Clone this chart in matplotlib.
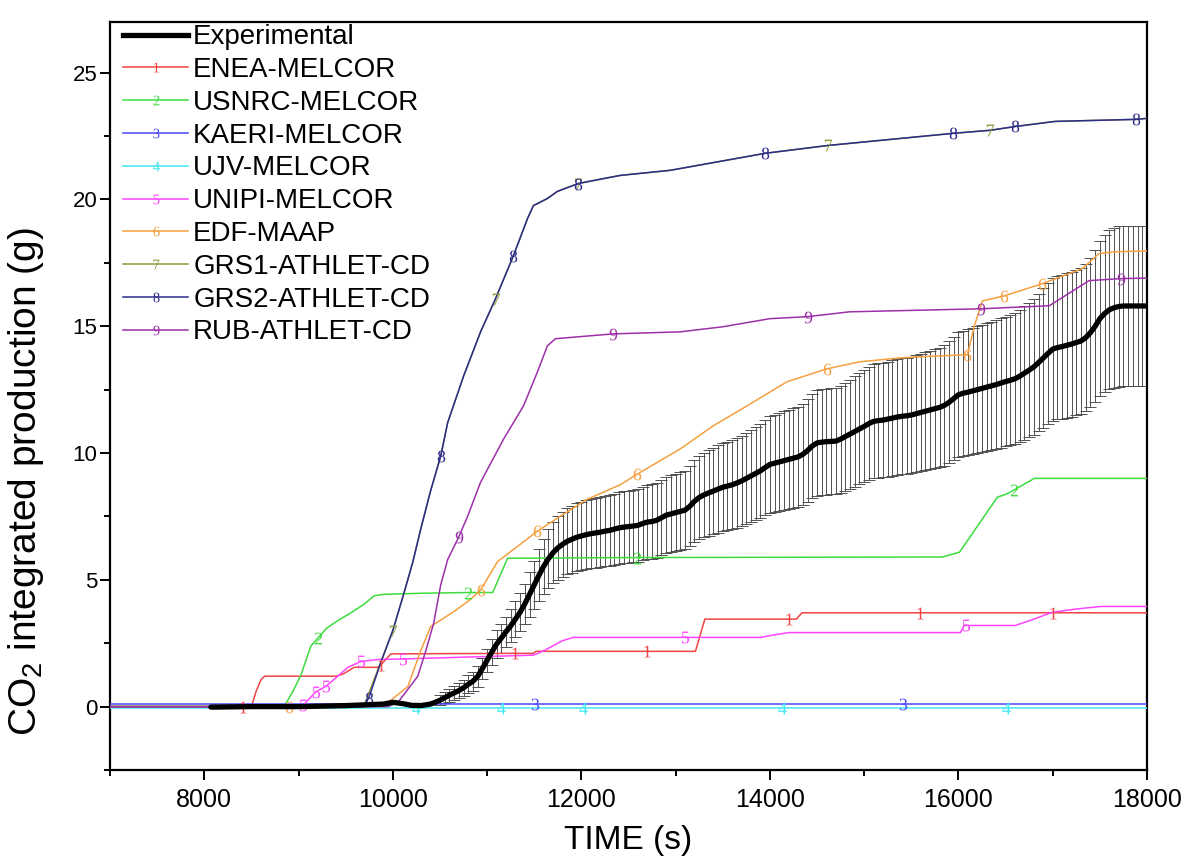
import numpy as np
import matplotlib
matplotlib.use("Agg")
import matplotlib.pyplot as plt
from matplotlib.lines import Line2D
from matplotlib.ticker import MultipleLocator

plt.rcParams["font.family"] = ["Liberation Sans", "DejaVu Sans"]
plt.rcParams["mathtext.fontset"] = "custom"
plt.rcParams["mathtext.rm"] = "Liberation Serif"
plt.rcParams["mathtext.sf"] = "Liberation Sans"

# ---------------- experimental CO2 integrated production ----------------
# sparse points before the rise, then one sample every 50 s
exp_t = [8070, 8500, 9000, 9500, 9700, 9900, 10000, 10100, 10200, 10300, 10400,
         10450] + list(range(10500, 18001, 50))
exp_v = [-0.02, 0.0, 0.0, 0.04, 0.07, 0.1, 0.17, 0.12, 0.05, 0.04, 0.1, 0.17,
         0.25, 0.35, 0.45, 0.54, 0.63, 0.74, 0.88, 1.0, 1.19, 1.5,
         1.83, 2.15, 2.46, 2.7, 2.95, 3.18, 3.45, 3.72, 4.05, 4.42,
         4.8, 5.18, 5.53, 5.83, 6.07, 6.26, 6.4, 6.52, 6.6, 6.68,
         6.73, 6.78, 6.82, 6.85, 6.88, 6.92, 6.95, 7.0, 7.05, 7.08,
         7.1, 7.12, 7.15, 7.22, 7.28, 7.3, 7.35, 7.45, 7.55, 7.6,
         7.65, 7.7, 7.75, 7.9, 8.1, 8.25, 8.35, 8.43, 8.5, 8.58,
         8.65, 8.7, 8.75, 8.82, 8.9, 9.0, 9.1, 9.2, 9.3, 9.43,
         9.55, 9.6, 9.65, 9.7, 9.75, 9.8, 9.85, 9.95, 10.1, 10.28,
         10.4, 10.43, 10.45, 10.46, 10.47, 10.55, 10.65, 10.75, 10.85, 10.95,
         11.05, 11.16, 11.25, 11.28, 11.3, 11.34, 11.38, 11.42, 11.45, 11.47,
         11.5, 11.55, 11.6, 11.65, 11.7, 11.75, 11.8, 11.88, 12.0, 12.15,
         12.3, 12.36, 12.4, 12.45, 12.5, 12.55, 12.6, 12.65, 12.7, 12.76,
         12.82, 12.87, 12.93, 13.03, 13.15, 13.27, 13.4, 13.57, 13.75, 13.93,
         14.1, 14.16, 14.2, 14.25, 14.3, 14.36, 14.42, 14.55, 14.75, 15.0,
         15.3, 15.5, 15.65, 15.73, 15.78, 15.8, 15.8, 15.8, 15.8, 15.8,
         15.8]
exp_err = [0, 0, 0, 0, 0, 0, 0, 0, 0, 0, 0, 0,
           0.2, 0.22, 0.25, 0.27, 0.3, 0.32, 0.35, 0.37, 0.4, 0.42,
           0.45, 0.5, 0.55, 0.57, 0.6, 0.65, 0.7, 0.75, 0.8, 0.88,
           0.95, 1.03, 1.1, 1.16, 1.2, 1.25, 1.28, 1.3, 1.32, 1.34,
           1.35, 1.36, 1.36, 1.37, 1.38, 1.38, 1.39, 1.4, 1.41, 1.42,
           1.42, 1.42, 1.43, 1.44, 1.46, 1.46, 1.47, 1.49, 1.51, 1.52,
           1.53, 1.54, 1.55, 1.58, 1.62, 1.65, 1.67, 1.69, 1.7, 1.72,
           1.73, 1.74, 1.75, 1.76, 1.78, 1.8, 1.82, 1.84, 1.86, 1.89,
           1.91, 1.92, 1.93, 1.94, 1.95, 1.96, 1.97, 1.99, 2.02, 2.06,
           2.08, 2.09, 2.09, 2.09, 2.09, 2.11, 2.13, 2.15, 2.17, 2.19,
           2.21, 2.23, 2.25, 2.26, 2.26, 2.27, 2.28, 2.28, 2.29, 2.29,
           2.3, 2.31, 2.32, 2.33, 2.34, 2.35, 2.36, 2.38, 2.4, 2.43,
           2.46, 2.47, 2.48, 2.49, 2.5, 2.51, 2.52, 2.53, 2.54, 2.55,
           2.56, 2.57, 2.59, 2.61, 2.63, 2.65, 2.68, 2.71, 2.75, 2.79,
           2.82, 2.83, 2.84, 2.85, 2.86, 2.87, 2.88, 2.91, 2.95, 3.0,
           3.06, 3.1, 3.13, 3.15, 3.16, 3.16, 3.16, 3.16, 3.16, 3.16,
           3.16]

# ---------------- code results ----------------
t1 = [7000, 8410, 8500, 8550, 8600, 8640, 9400, 9480, 9590, 9840, 9873, 9980,
      11300, 11490, 11520, 12700, 13210, 13310, 14200, 14280, 14340, 15590, 17000, 18000]
v1 = [0, 0, 0, 0.6, 1.05, 1.2, 1.2, 1.3, 1.55, 1.55, 1.65, 2.08,
      2.1, 2.1, 2.18, 2.18, 2.18, 3.45, 3.45, 3.45, 3.7, 3.7, 3.7, 3.7]
m1 = [8410, 9873, 11300, 12700, 14200, 15590, 17000]

t2 = [7000, 8847, 8940, 9026, 9132, 9206, 9300, 9420, 9556, 9700, 9800, 9905,
      10300, 10794, 11060, 11217, 12593, 15830, 16011, 16413, 16508, 16593, 16804, 18000]
v2 = [0, 0, 0.6, 1.25, 2.4, 2.7, 3.1, 3.4, 3.7, 4.05, 4.37, 4.43,
      4.47, 4.5, 4.5, 5.85, 5.88, 5.9, 6.09, 8.26, 8.38, 8.55, 9.0, 9.0]
m2 = [9206, 10794, 12593, 16593]

t3 = [7000, 11510, 15410, 18000]
v3 = [0.1, 0.1, 0.1, 0.1]
m3 = [11510, 15410]

t4 = [7000, 10243, 11143, 12021, 14127, 16508, 18000]
v4 = [-0.04, -0.04, -0.04, -0.04, -0.04, -0.04, -0.04]
m4 = [10243, 11143, 12021, 14127, 16508]

t5 = [7000, 8960, 9048, 9185, 9291, 9400, 9524, 9661, 9850, 10106, 11492, 11600,
      11700, 11800, 11915, 13101, 13905, 14000, 14201, 16021, 16060, 16085, 16604,
      16800, 16995, 17250, 17513, 18000]
v5 = [0, 0, 0.05, 0.59, 0.8, 1.15, 1.55, 1.78, 1.86, 1.88, 2.03, 2.2,
      2.4, 2.6, 2.73, 2.73, 2.73, 2.8, 2.92, 2.92, 3.2, 3.2, 3.2,
      3.45, 3.72, 3.85, 3.95, 3.95]
m5 = [9048, 9185, 9291, 9661, 10106, 13101, 16085]

t6 = [7000, 8900, 9800, 9947, 10159, 10296, 10402, 10645, 10825, 10931, 11111,
      11323, 11534, 11778, 12063, 12413, 12593, 13048, 13397, 13757, 14180, 14603,
      14952, 15376, 15555, 16095, 16169, 16254, 16487, 16889, 17312, 17492, 17672, 18000]
v6 = [0, 0, 0.02, 0.16, 0.79, 2.2, 3.16, 3.74, 4.23, 4.6, 5.72,
      6.32, 6.92, 7.51, 8.18, 8.75, 9.17, 10.16, 11.07, 11.86, 12.81, 13.32,
      13.6, 13.75, 13.79, 13.88, 15.02, 16.0, 16.2, 16.68, 17.27, 17.87, 17.94, 17.97]
m6 = [8900, 10931, 11534, 12593, 14603, 16095, 16487, 16889]

t7 = [7000, 9690, 9873, 10000, 10116, 10212, 10296, 10400, 10508, 10582, 10751,
      10931, 11090, 11280, 11429, 11492, 11640, 11746, 11968, 12201, 12413, 12942,
      13947, 14614, 15947, 16339, 16604, 17027, 17884, 18000]
v7 = [0, 0, 1.75, 3.0, 4.45, 5.7, 7.0, 8.5, 9.88, 11.2, 13.04,
      14.78, 16.09, 17.79, 19.25, 19.76, 20.04, 20.32, 20.63, 20.8, 20.95, 21.15,
      21.82, 22.13, 22.61, 22.73, 22.88, 23.08, 23.16, 23.2]
m7 = [10000, 11090, 11968, 14614, 16339]

t8 = [7000, 9690, 9746, 9873, 10000, 10116, 10212, 10296, 10400, 10508, 10582,
      10751, 10931, 11090, 11280, 11429, 11492, 11640, 11746, 11968, 12201, 12413,
      12942, 13947, 14614, 15947, 16339, 16604, 17027, 17884, 18000]
v8 = [0, 0, 0.35, 1.75, 3.0, 4.45, 5.7, 7.0, 8.5, 9.88, 11.2,
      13.04, 14.78, 16.09, 17.79, 19.25, 19.76, 20.04, 20.32, 20.63, 20.8, 20.95,
      21.15, 21.82, 22.13, 22.61, 22.73, 22.88, 23.08, 23.16, 23.2]
m8 = [9746, 10508, 11280, 11968, 13947, 15947, 16604, 17884]

t9 = [7000, 9950, 10053, 10265, 10350, 10434, 10508, 10582, 10698, 10794, 10931,
      11175, 11386, 11534, 11640, 11725, 12339, 13048, 13500, 14000, 14402, 14847,
      16243, 16963, 17249, 17386, 17725, 18000]
v9 = [0, 0, 0.16, 1.2, 2.2, 3.3, 4.8, 5.8, 6.68, 7.51, 8.85,
      10.55, 11.86, 13.2, 14.23, 14.51, 14.7, 14.78, 14.98, 15.3, 15.38, 15.57,
      15.69, 15.81, 16.48, 16.8, 16.88, 16.9]
m9 = [10698, 12339, 14402, 16243, 17725]

labels = ["ENEA-MELCOR", "USNRC-MELCOR", "KAERI-MELCOR", "UJV-MELCOR",
          "UNIPI-MELCOR", "EDF-MAAP", "GRS1-ATHLET-CD", "GRS2-ATHLET-CD",
          "RUB-ATHLET-CD"]
colors = ["#f04444", "#3ddc3d", "#4848ff", "#3ee8f0", "#ff44ff",
          "#f5a040", "#8c9a3a", "#2c2c8c", "#9c30a8"]
series = [(t1, v1, m1), (t2, v2, m2), (t3, v3, m3), (t4, v4, m4), (t5, v5, m5),
          (t6, v6, m6), (t7, v7, m7), (t8, v8, m8), (t9, v9, m9)]

fig = plt.figure(figsize=(11.97, 8.57), dpi=100)
ax = fig.add_axes([110 / 1197, 1 - 770 / 857, (1147 - 110) / 1197, (770 - 22) / 857])

et = np.array(exp_t, float)
ev = np.array(exp_v, float)
ee = np.array(exp_err, float)
sel = ee > 0
ax.errorbar(et[sel], ev[sel], yerr=ee[sel], fmt="none", ecolor="#505050",
            elinewidth=0.7, capsize=4, capthick=0.7, zorder=2)

MS = 8.5
for k, ((t, v, m), c) in enumerate(zip(series, colors)):
    ax.plot(t, v, color=c, lw=1.1, zorder=3 + k * 0.01)
    idx = [t.index(x) for x in m]
    ax.plot([t[i] for i in idx], [v[i] for i in idx], ls="none",
            marker=f"${k + 1}$", ms=MS, mew=0, color=c, zorder=4)

ax.plot(exp_t, exp_v, color="black", lw=3.8, solid_capstyle="round", zorder=5)

handles = [Line2D([], [], color="black", lw=3.8)]
for k, c in enumerate(colors):
    handles.append(Line2D([], [], color=c, lw=1.1, marker=f"${k + 1}$",
                          ms=7, mew=0))
ax.legend(handles, ["Experimental"] + labels, loc="upper left",
          bbox_to_anchor=(0.0125, 0.997), frameon=False, fontsize=20,
          handlelength=2.35, handletextpad=0.18, labelspacing=0.245,
          borderaxespad=0.0, borderpad=0.0)

ax.set_xlim(7000, 18000)
ax.set_ylim(-2.5, 27)
ax.xaxis.set_major_locator(MultipleLocator(2000))
ax.xaxis.set_minor_locator(MultipleLocator(1000))
ax.yaxis.set_major_locator(MultipleLocator(5))
ax.yaxis.set_minor_locator(MultipleLocator(2.5))
ax.tick_params(which="both", direction="out", top=False, right=False, width=1.4)
ax.tick_params(axis="x", labelsize=18, pad=6)
ax.tick_params(axis="y", labelsize=16, pad=2)
ax.tick_params(which="major", length=7)
ax.tick_params(which="minor", length=4)
for s in ax.spines.values():
    s.set_linewidth(1.6)

ax.set_xlabel("TIME (s)", fontsize=24, labelpad=9)
ax.set_ylabel(r"CO$_\mathsf{2}$ integrated production (g)", fontsize=28)
ax.yaxis.set_label_coords(-0.062, (770 - 482) / 748)

fig.savefig("out.png", dpi=100)
